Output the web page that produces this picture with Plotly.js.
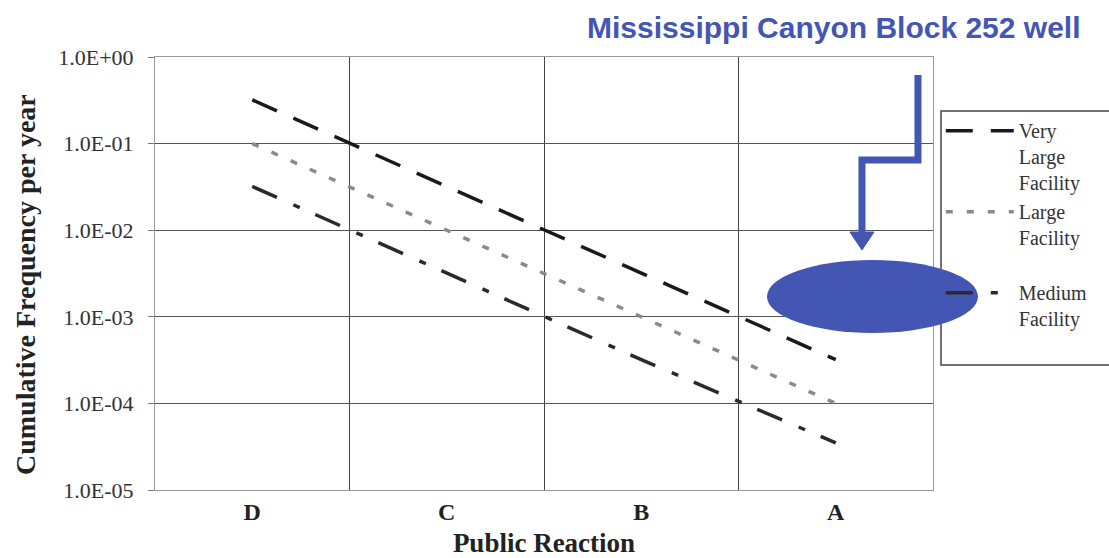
<!DOCTYPE html>
<html><head><meta charset="utf-8">
<script src="https://cdn.plot.ly/plotly-3.0.1.min.js"></script>
<style>html,body{margin:0;padding:0;background:#fff}</style>
</head><body><div id="chart" style="width:1109px;height:558px"></div>
<script>
const categories = ['D', 'C', 'B', 'A'];
const veryLarge = [3.2e-1, 3.2e-2, 3.2e-3, 3.2e-4];
const large = [1.0e-1, 1.0e-2, 1.0e-3, 1.0e-4];
const medium = [3.2e-2, 3.2e-3, 3.2e-4, 3.5e-5];
const yTickVals = [1e-5, 1e-4, 1e-3, 1e-2, 1e-1, 1e0];
const yTickText = ['1.0E-05', '1.0E-04', '1.0E-03', '1.0E-02', '1.0E-01', '1.0E+00'];
const seriesNames = ['Very<br>Large<br>Facility', 'Large<br>Facility<br> ', 'Medium<br>Facility'];

const serif = "'Liberation Serif', 'Times New Roman', serif";
const blue = '#4356B4';

const traces = [
  {x: categories, y: veryLarge, name: seriesNames[0], mode: 'lines', type: 'scatter',
   line: {color: '#1a1a1a', width: 3.5, dash: '27px,18px'}},
  {x: categories, y: large, name: seriesNames[1], mode: 'lines', type: 'scatter',
   line: {color: '#8a8a8a', width: 3.5, dash: '7px,14px'}},
  {x: categories, y: medium, name: seriesNames[2], mode: 'lines', type: 'scatter',
   line: {color: '#2a2a2a', width: 3.5, dash: '27px,18px,7px,17px'}}
];

const layout = {
  width: 1109, height: 558,
  margin: {l: 155, r: 176, t: 57, b: 68},
  paper_bgcolor: '#fff', plot_bgcolor: '#fff',
  font: {family: serif, color: '#333'},
  showlegend: true,
  legend: {x: 1.01, y: 0.875, xanchor: 'left', yanchor: 'top', valign: 'top',
    bgcolor: 'rgba(255,255,255,0)', borderwidth: 0,
    font: {family: serif, size: 20, color: '#333'}, itemwidth: 68},
  xaxis: {type: 'category', categoryorder: 'array', categoryarray: categories,
    range: [-0.5, 3.5], tickson: 'boundaries', ticks: '',
    showgrid: true, gridcolor: '#444', gridwidth: 1,
    showline: true, linecolor: '#999', mirror: true, zeroline: false,
    tickfont: {family: serif, size: 24, color: '#222', weight: 'bold'},
    title: {text: '<b>Public Reaction</b>', font: {family: serif, size: 27, color: '#222'}, standoff: 17}},
  yaxis: {type: 'log', range: [-5, 0], tickvals: yTickVals, ticktext: yTickText,
    showgrid: true, gridcolor: '#555', gridwidth: 1,
    showline: true, linecolor: '#999', mirror: true, zeroline: false,
    ticks: 'outside', ticklen: 6, tickcolor: '#777', ticklabelstandoff: 10,
    tickfont: {family: serif, size: 22, color: '#333'}},
  annotations: [
    {xref: 'paper', yref: 'paper', x: 0.873, y: 1.0, yshift: 30, xanchor: 'center', yanchor: 'middle',
     showarrow: false, text: '<b>Mississippi Canyon Block 252 well</b>',
     font: {family: 'Liberation Sans, Arial, sans-serif', size: 30, color: blue}},
    {xref: 'paper', yref: 'paper', x: 0, xshift: -130, y: 0.4734, xanchor: 'center', yanchor: 'middle',
     showarrow: false, textangle: -90, text: '<b>Cumulative Frequency per year</b>',
     font: {family: serif, size: 28, color: '#222'}}
  ],
  shapes: [
    {type: 'rect', xref: 'paper', yref: 'paper', x0: 1.0103, x1: 1.25, y0: 0.2887, y1: 0.8753,
     line: {color: '#444', width: 1.5}, fillcolor: 'rgba(0,0,0,0)', layer: 'above'},
    {type: 'circle', xref: 'paper', yref: 'paper', x0: 0.7866, x1: 1.0578, y0: 0.3626, y1: 0.531,
     fillcolor: blue, line: {width: 0}, layer: 'above'},
    {type: 'path', xref: 'paper', yref: 'paper', layer: 'above',
     path: 'M 0.9807 0.9584 L 0.9807 0.7621 L 0.9087 0.7621 L 0.9087 0.585',
     line: {color: blue, width: 7}},
    {type: 'path', xref: 'paper', yref: 'paper', layer: 'above',
     path: 'M 0.8933 0.5958 L 0.9242 0.5958 L 0.9087 0.5543 Z',
     fillcolor: blue, line: {color: blue, width: 1}}
  ]
};

Plotly.newPlot('chart', traces, layout, {displayModeBar: false, staticPlot: true});
</script></body></html>
